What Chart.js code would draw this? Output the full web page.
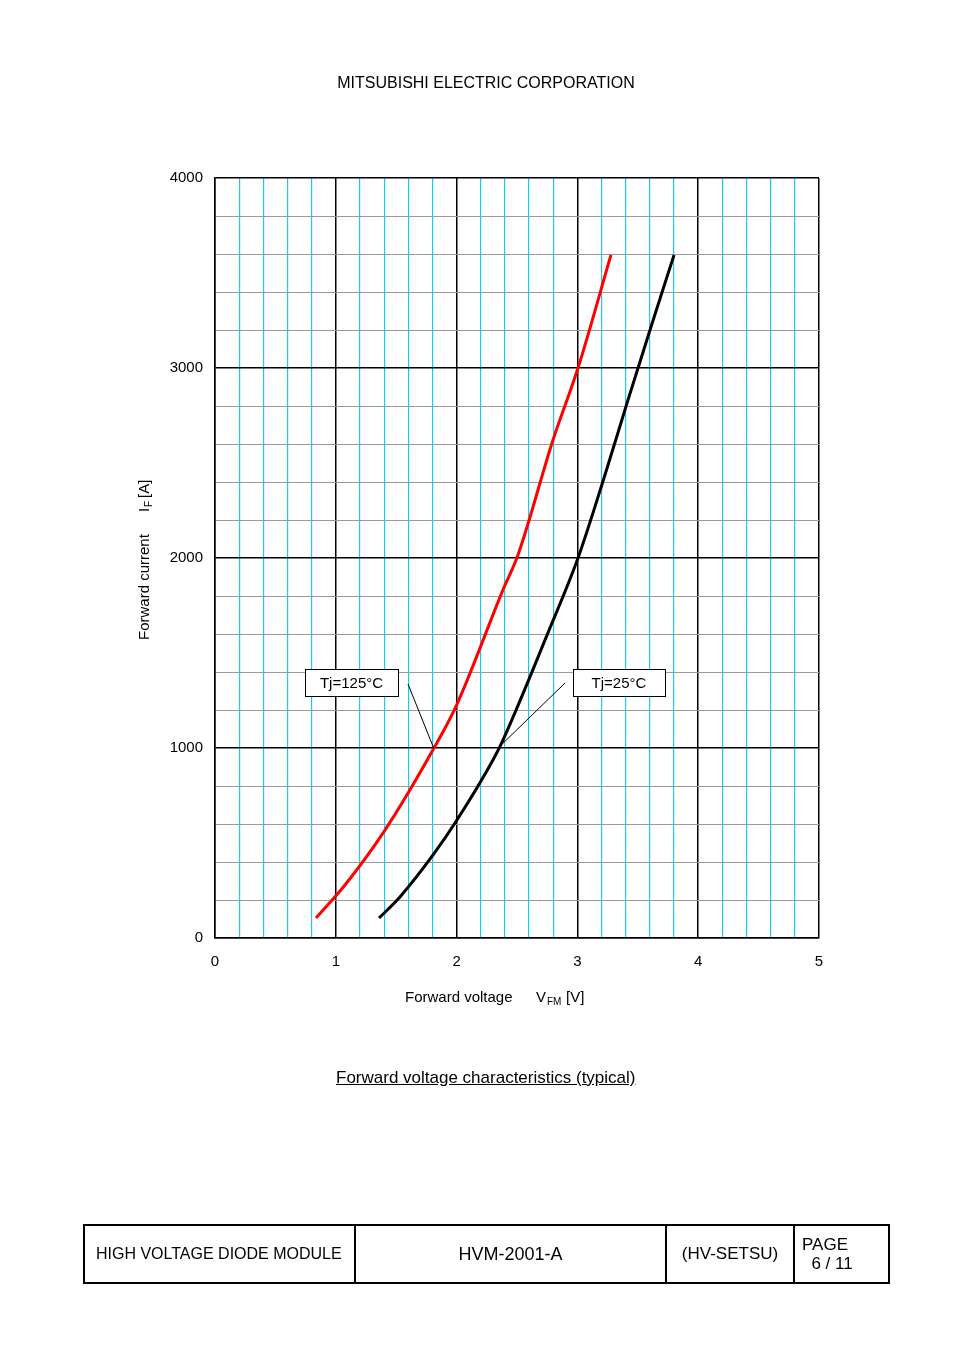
<!DOCTYPE html>
<html>
<head>
<meta charset="utf-8">
<script src="https://cdn.jsdelivr.net/npm/chart.js@4/dist/chart.umd.min.js"></script>
<style>
  body { margin: 0; background: #fff; font-family: "Liberation Sans", Arial, sans-serif; }
  #page { position: relative; width: 954px; height: 1350px; }
  #chart { position: absolute; left: 0; top: 0; }
  .txt { position: absolute; font-size: 15px; color: #000; }
  table { position: absolute; left: 83px; top: 1224px; width: 807px; height: 60px; border-collapse: collapse; border: 2px solid #000; table-layout: fixed; }
  td { border: 2px solid #000; font-size: 16px; padding: 0; overflow: hidden; white-space: nowrap; }
</style>
</head>
<body>
<div id="page">
  <canvas id="chart" width="954" height="1350"></canvas>
  <div class="txt" style="left:0;width:972px;text-align:center;top:74px;font-size:16px">MITSUBISHI ELECTRIC CORPORATION</div>
  <div class="txt" style="left:336px;top:1068px;font-size:17px;text-decoration:underline">Forward voltage characteristics (typical)</div>
  <table>
    <tr>
      <td style="width:271px;padding-left:11px;box-sizing:border-box">HIGH VOLTAGE DIODE MODULE</td>
      <td style="width:309px;text-align:center;font-size:18px">HVM-2001-A</td>
      <td style="width:126px;text-align:center;font-size:17px">(HV-SETSU)</td>
      <td style="padding-left:7px;line-height:19px;font-size:17px">PAGE<br>&nbsp;&nbsp;6 / 11</td>
    </tr>
  </table>
</div>
<script>
// values
const hotVf = [0.836, 1.076, 1.407, 1.813, 2.0, 2.384, 2.508, 2.798, 3.005, 3.278];
const hotIf = [105, 279, 568, 1000, 1226, 1832, 2016, 2621, 3000, 3595];
const coldVf = [1.358, 1.531, 1.805, 2.003, 2.301, 2.384, 2.773, 3.005, 3.228, 3.419, 3.601, 3.8];
const coldIf = [105, 216, 437, 621, 937, 1042, 1632, 2000, 2437, 2832, 3200, 3595];
const xTicks = [0, 1, 2, 3, 4, 5];
const yTicks = [0, 1000, 2000, 3000, 4000];

const toPts = (xs, ys) => xs.map((x, i) => ({x: x, y: ys[i]}));
const isMajor = v => Math.abs(v - Math.round(v)) < 1e-6;

const labelsPlugin = {
  id: 'labels',
  afterDraw(chart) {
    const {ctx, scales: {x, y}} = chart;
    ctx.save();
    ctx.fillStyle = '#000';
    ctx.font = '15px "Liberation Sans", Arial, sans-serif';
    ctx.textBaseline = 'middle';
    ctx.textAlign = 'right';
    yTicks.forEach(v => ctx.fillText(String(v), 203, y.getPixelForValue(v)));
    ctx.textAlign = 'center';
    xTicks.forEach(v => ctx.fillText(String(v), x.getPixelForValue(v), 962));

    // x title
    ctx.textAlign = 'left';
    ctx.fillText('Forward voltage', 405, 998);
    ctx.fillText('V', 536, 998);
    ctx.font = '10px "Liberation Sans", Arial, sans-serif';
    ctx.fillText('FM', 547, 1002);
    ctx.font = '15px "Liberation Sans", Arial, sans-serif';
    ctx.fillText('[V]', 566, 998);

    // y title
    ctx.save();
    ctx.translate(145, 640);
    ctx.rotate(-Math.PI / 2);
    ctx.fillText('Forward current', 0, 0);
    ctx.fillText('I', 128, 0);
    ctx.font = '10px "Liberation Sans", Arial, sans-serif';
    ctx.fillText('F', 133, 4);
    ctx.font = '15px "Liberation Sans", Arial, sans-serif';
    ctx.fillText('[A]', 142, 0);
    ctx.restore();

    // callouts
    const callout = (text, bx, by, bw, bh, x1, y1, vx, vy) => {
      ctx.fillStyle = '#fff';
      ctx.fillRect(bx, by, bw, bh);
      ctx.strokeStyle = '#000';
      ctx.lineWidth = 1;
      ctx.strokeRect(bx + 0.5, by + 0.5, bw, bh);
      ctx.fillStyle = '#000';
      ctx.textAlign = 'center';
      ctx.fillText(text, bx + bw / 2, by + bh / 2 + 1);
      ctx.beginPath();
      ctx.moveTo(x1, y1);
      ctx.lineTo(x.getPixelForValue(vx), y.getPixelForValue(vy));
      ctx.stroke();
    };
    callout('Tj=125°C', 305, 669, 93, 27, 408, 684, 1.81, 1000);
    callout('Tj=25°C', 573, 669, 92, 27, 565, 683, 2.36, 1010);
    ctx.restore();
  }
};

new Chart(document.getElementById('chart'), {
  type: 'scatter',
  plugins: [labelsPlugin],
  data: {
    datasets: [
      { data: toPts(hotVf, hotIf), showLine: true, borderColor: '#ff0000', borderWidth: 3, pointRadius: 0, cubicInterpolationMode: 'monotone' },
      { data: toPts(coldVf, coldIf), showLine: true, borderColor: '#000000', borderWidth: 3, pointRadius: 0, cubicInterpolationMode: 'monotone' }
    ]
  },
  options: {
    responsive: false,
    animation: false,
    layout: { padding: { left: 215, right: 135, top: 178, bottom: 412 } },
    plugins: { legend: { display: false }, tooltip: { enabled: false } },
    scales: {
      x: {
        min: 0, max: 5,
        afterFit: s => { s.height = 0; },
        ticks: { display: false, stepSize: 0.2 },
        border: { display: true, color: '#000', width: 1.5 },
        grid: {
          drawTicks: false,
          color: c => isMajor(c.tick.value) ? '#000' : '#1fc8f0',
          lineWidth: c => isMajor(c.tick.value) ? 1.5 : 1.2
        }
      },
      y: {
        min: 0, max: 4000,
        afterFit: s => { s.width = 0; },
        ticks: { display: false, stepSize: 200 },
        border: { display: true, color: '#000', width: 1.5 },
        grid: {
          drawTicks: false,
          color: c => c.tick.value % 1000 === 0 ? '#000' : '#9a9a9a',
          lineWidth: c => c.tick.value % 1000 === 0 ? 1.5 : 1
        }
      }
    }
  }
});
</script>
</body>
</html>
